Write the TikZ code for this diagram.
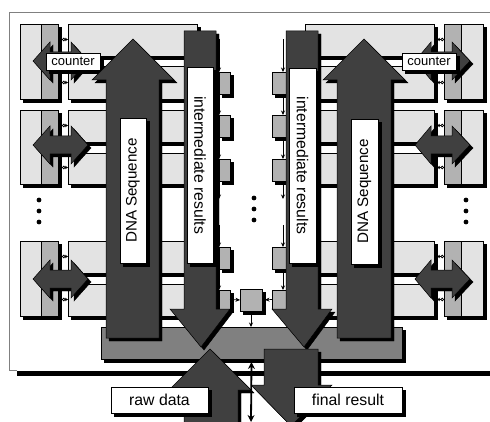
\documentclass[tikz,border=0pt]{standalone}
\usepackage{fontspec}
\setmainfont{Liberation Sans}
\usetikzlibrary{arrows.meta,calc}
\definecolor{lightc}{HTML}{E3E3E3}
\definecolor{midc}{HTML}{B2B2B2}
\definecolor{darkc}{HTML}{404040}
\definecolor{barc}{HTML}{808080}
\newcommand{\mkbox}[6]{%
  \pgfmathsetmacro{\bw}{#4-#2}\pgfmathsetmacro{\bh}{#5-#3}%
  \pgfmathsetmacro{\bcx}{(#4+#2)/2}\pgfmathsetmacro{\bcy}{(#5+#3)/2}%
  \node[boxbase,#6,minimum width=\bw pt,minimum height=\bh pt] (#1) at (\bcx,\bcy) {};}
\tikzset{
  blk/.style={preaction={draw=black,fill=black,transform canvas={shift={(3pt,-3pt)}}}},
  boxbase/.style={draw=black,line width=.5pt,inner sep=0pt,outer sep=0pt,blk},
  lightbox/.style={fill=lightc},
  midbox/.style={fill=midc},
  bigarrow/.style={draw=black,line width=.5pt,fill=darkc,blk},
  labelbox/.style={draw=black,line width=.5pt,fill=white,inner sep=0pt,outer sep=0pt,blk},
  tiny arrow/.style={line width=.7pt,-{Stealth[length=4.5pt,width=4pt]}},
  link arrow/.style={line width=.7pt,{Circle[open,length=3.5pt,width=3.5pt]}-{Stealth[length=3pt,width=3.5pt]}},
  big link/.style={line width=1.8pt,{Stealth[length=7pt,width=7pt]}-{Stealth[length=7pt,width=7pt]}},
  dotnode/.style={circle,fill=black,inner sep=0pt,minimum size=4.8pt}
}
\begin{document}
\begin{tikzpicture}[x=1pt,y=-1pt]
\useasboundingbox (0,0) rectangle (490,422);
\clip (0,0) rectangle (490,422);
\fill[white] (0,0) rectangle (490,422);
% frame
\fill[black] (17,371) rectangle (490,376);
\draw[barc,line width=1pt] (490,13) -- (9,13) -- (9,370.5) -- (17,370.5);
% rows
\foreach \n/\t/\a/\l/\e/\m in {1/24/56/66/99/61, 2/110/142/153/184/145, 3/241/273/284/316/279}{
  \mkbox{lp\n}{20}{\t}{41}{\e}{lightbox}
  \mkbox{lg\n}{41}{\t}{58}{\e}{midbox}
  \mkbox{lu\n}{68}{\t}{197}{\a}{lightbox}
  \mkbox{ld\n}{68}{\l}{197}{\e}{lightbox}
  \mkbox{rg\n}{444}{\t}{461}{\e}{midbox}
  \mkbox{rp\n}{461}{\t}{483}{\e}{lightbox}
  \mkbox{ru\n}{305}{\t}{434}{\a}{lightbox}
  \mkbox{rd\n}{305}{\l}{434}{\e}{lightbox}
  \coordinate (la\n) at (62,\t+15.5);
  \coordinate (lb\n) at (62,\e-16.5);
  \coordinate (ra\n) at (437,\t+15.5);
  \coordinate (rb\n) at (437,\e-16.5);
  \draw[link arrow] (la\n) -- (lu\n.west |- la\n);
  \draw[link arrow] (lb\n) -- (ld\n.west |- lb\n);
  \draw[link arrow] (rg\n.west |- ra\n) -- (ra\n);
  \draw[link arrow] (rg\n.west |- rb\n) -- (rb\n);
  \draw[bigarrow] (33,\m) -- (50,\m-19) -- (50,\m-9) -- (71,\m-9) -- (71,\m-19) -- (88,\m) -- (71,\m+19) -- (71,\m+9) -- (50,\m+9) -- (50,\m+19) -- cycle;
  \draw[bigarrow] (415,\m) -- (431,\m-19) -- (431,\m-9) -- (452,\m-9) -- (452,\m-19) -- (470,\m) -- (452,\m+19) -- (452,\m+9) -- (431,\m+9) -- (431,\m+19) -- cycle;
}
% counter labels
\node[labelbox,minimum width=54pt,minimum height=17pt,font=\fontsize{13}{13}\selectfont] (cl) at (73,61.5) {counter};
\node[labelbox,minimum width=54pt,minimum height=17pt,font=\fontsize{13}{13}\selectfont] (cr) at (429,61.5) {counter};
% dots
\foreach \i/\x/\y in {a/39/200,b/39/211,c/39/222,d/254/198,e/254/209,f/254/220,g/466/200,h/466/211,k/466/222}{
  \node[dotnode] (dot\i) at (\x,\y) {};
}
% gray bar
\mkbox{bar}{101}{327}{402}{359}{fill=barc}
% small squares
\mkbox{sl1}{219}{72}{230}{94}{midbox}
\mkbox{sl2}{219}{115}{230}{137}{midbox}
\mkbox{sl3}{219}{159}{230}{181}{midbox}
\mkbox{sl4}{219}{247}{230}{269}{midbox}
\mkbox{sl5}{219}{290}{230}{309}{midbox}
\mkbox{sr1}{272}{72}{286}{94}{midbox}
\mkbox{sr2}{272}{115}{286}{137}{midbox}
\mkbox{sr3}{272}{159}{286}{181}{midbox}
\mkbox{sr4}{272}{247}{286}{269}{midbox}
\mkbox{sr5}{272}{290}{286}{309}{midbox}
\mkbox{mid}{240}{289}{262}{311}{midbox}
% vertical small arrows
\coordinate (ltop) at (219,39);
\coordinate (rtop) at (283,39);
\coordinate (lgapa) at (219,199);
\coordinate (lgapb) at (219,225);
\coordinate (rgapa) at (283,199);
\coordinate (rgapb) at (283,225);
\draw[tiny arrow] (ltop) -- (ltop |- sl1.north);
\draw[tiny arrow] (ltop |- sl1.south) -- (ltop |- sl2.north);
\draw[tiny arrow] (ltop |- sl2.south) -- (ltop |- sl3.north);
\draw[tiny arrow] (ltop |- sl3.south) -- (lgapa);
\draw[tiny arrow] (lgapb) -- (ltop |- sl4.north);
\draw[tiny arrow] (ltop |- sl4.south) -- (ltop |- sl5.north);
\draw[tiny arrow] (rtop) -- (rtop |- sr1.north);
\draw[tiny arrow] (rtop |- sr1.south) -- (rtop |- sr2.north);
\draw[tiny arrow] (rtop |- sr2.south) -- (rtop |- sr3.north);
\draw[tiny arrow] (rtop |- sr3.south) -- (rgapa);
\draw[tiny arrow] (rgapb) -- (rtop |- sr4.north);
\draw[tiny arrow] (rtop |- sr4.south) -- (rtop |- sr5.north);
\draw[tiny arrow] (sl5.east) -- (mid.west);
\draw[tiny arrow,shorten >=3pt] (sr5.west) -- (mid.east);
\draw[tiny arrow] (mid.south) -- (bar.north -| mid.south);
% DNA arrows
\draw[bigarrow] (133,39) -- (174,80) -- (159,80) -- (159,338) -- (106,338) -- (106,80) -- (92,80) -- cycle;
\draw[bigarrow] (364,39) -- (405,80) -- (391,80) -- (391,338) -- (337,338) -- (337,80) -- (323,80) -- cycle;
\node[labelbox,rotate=90,minimum width=145pt,minimum height=26pt,font=\fontsize{15.2}{15.2}\selectfont] (dnal) at (133,190.5) {DNA Sequence};
\node[labelbox,rotate=90,minimum width=145pt,minimum height=27pt,font=\fontsize{15.2}{15.2}\selectfont] (dnar) at (364.5,191.5) {DNA Sequence};
% intermediate arrows
\draw[bigarrow] (184,31) -- (216,31) -- (216,309) -- (230,309) -- (201,347) -- (170,309) -- (184,309) -- cycle;
\draw[bigarrow] (286,31) -- (318,31) -- (318,309) -- (332,309) -- (304,347) -- (272,309) -- (286,309) -- cycle;
\node[labelbox,rotate=-90,minimum width=196pt,minimum height=26pt,font=\fontsize{15.8}{15.8}\selectfont] (intl) at (200,165) {intermediate results};
\node[labelbox,rotate=-90,minimum width=195pt,minimum height=27pt,font=\fontsize{15.8}{15.8}\selectfont] (intr) at (302.5,165.5) {intermediate results};
% data arrows
\draw[bigarrow] (210,349) -- (251,390) -- (238,390) -- (238,430) -- (184,430) -- (184,390) -- (169,390) -- cycle;
\draw[bigarrow] (264,349) -- (318,349) -- (318,385) -- (332,385) -- (291,426) -- (251,385) -- (264,385) -- cycle;
\coordinate (ioend) at (251,422);
\draw[big link] (bar.south) ++(0,3) -- (ioend);
\node[labelbox,minimum width=97pt,minimum height=26pt,font=\fontsize{15.8}{15.8}\selectfont] (raw) at (159.5,400) {raw data};
\node[labelbox,minimum width=108pt,minimum height=26pt,font=\fontsize{15.8}{15.8}\selectfont] (fin) at (348,400) {final result};
\end{tikzpicture}
\end{document}
